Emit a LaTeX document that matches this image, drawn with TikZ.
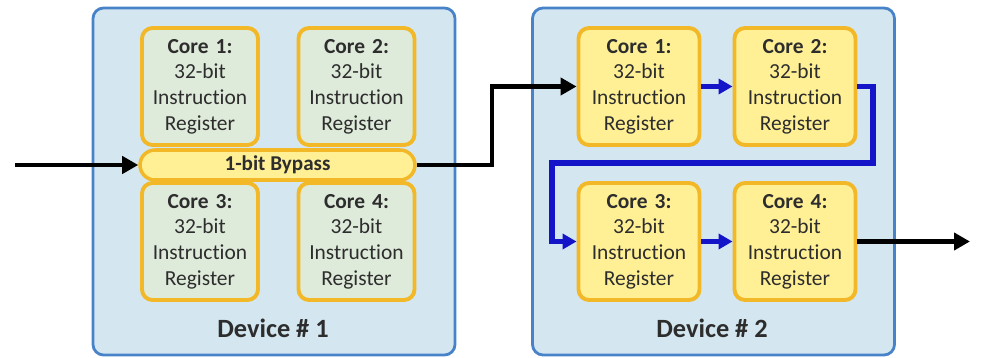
\documentclass[tikz,border=0pt]{standalone}
\usepackage{fontspec}
\setmainfont[Ligatures=NoCommon]{Carlito}
\usetikzlibrary{arrows.meta}

\definecolor{devfill}{RGB}{212,231,240}
\definecolor{devline}{RGB}{72,130,200}
\definecolor{coreline}{RGB}{242,184,40}
\definecolor{corefillA}{RGB}{222,234,218}
\definecolor{corefillB}{RGB}{255,240,150}
\definecolor{chainblue}{RGB}{20,20,200}
\definecolor{txtgray}{RGB}{45,45,45}

\tikzset{
  device/.style={draw=devline, fill=devfill, line width=1.6pt, rounded corners=6pt,
    minimum width=7.24cm, minimum height=6.94cm},
  corebox/.style={draw=coreline, line width=2.2pt, rounded corners=6pt,
    minimum height=2.34cm, text width=2.3cm, align=center, inner sep=0pt,
    text=txtgray, font=\fontsize{12.2}{14.6}\selectfont},
  bypass/.style={draw=coreline, fill=corefillB, line width=2pt, rounded corners=0.3cm,
    minimum width=5.5cm, minimum height=0.6cm, text=txtgray,
    font=\fontsize{12}{13}\selectfont\bfseries},
  devlabel/.style={text=txtgray, font=\fontsize{15}{17}\selectfont\bfseries},
  link/.style={line width=2.4pt, -{Triangle[length=0.32cm, width=0.34cm]}},
  chain/.style={line width=3pt, draw=chainblue, -{Triangle[length=0.28cm, width=0.3cm]}}
}

\begin{document}
\begin{tikzpicture}
  \useasboundingbox (0,0) rectangle (19.62,7.16);

  % Devices
  \node[device] (dev1) at (5.48,3.53) {};
  \node[device] (dev2) at (14.27,3.53) {};

  \def\yT{5.43}  % upper row
  \def\yB{2.33}  % lower row

  % Device # 1: cores around the bypass
  \node[corebox, fill=corefillA, minimum width=2.32cm] (aI)   at (4.00,\yT) {\textbf{Core 1:}\\32-bit\\Instruction\\Register};
  \node[corebox, fill=corefillA, minimum width=2.32cm] (aII)  at (7.13,\yT) {\textbf{Core 2:}\\32-bit\\Instruction\\Register};
  \node[corebox, fill=corefillA, minimum width=2.32cm] (aIII) at (4.00,\yB) {\textbf{Core 3:}\\32-bit\\Instruction\\Register};
  \node[corebox, fill=corefillA, minimum width=2.32cm] (aIV)  at (7.13,\yB) {\textbf{Core 4:}\\32-bit\\Instruction\\Register};
  \node[bypass] (byp) at (5.55,3.86) {1-bit Bypass};
  \node[devlabel] (lab1) at (5.46,0.60) {Device \# 1};

  % Device # 2: cores in a chain
  \node[corebox, fill=corefillB, minimum width=2.42cm] (bI)   at (12.78,\yT) {\textbf{Core 1:}\\32-bit\\Instruction\\Register};
  \node[corebox, fill=corefillB, minimum width=2.42cm] (bII)  at (15.90,\yT) {\textbf{Core 2:}\\32-bit\\Instruction\\Register};
  \node[corebox, fill=corefillB, minimum width=2.42cm] (bIII) at (12.78,\yB) {\textbf{Core 3:}\\32-bit\\Instruction\\Register};
  \node[corebox, fill=corefillB, minimum width=2.42cm] (bIV)  at (15.90,\yB) {\textbf{Core 4:}\\32-bit\\Instruction\\Register};
  \node[devlabel] (lab2) at (14.24,0.60) {Device \# 2};

  % Free ends
  \coordinate (in)  at (0.30,3.86);
  \coordinate (out) at (19.40,\yB);

  % Scan path
  \draw[link] (in) -- (byp.west);
  \draw[link] (byp.east) -- (9.84,3.86) -- (9.84,\yT) -- (bI.west);
  \draw[chain] (bI.east) -- (bII.west);
  \draw[chain] (bII.east) -- (17.46,\yT) -- (17.46,3.90) -- (11.04,3.90) -- (11.04,\yB) -- (bIII.west);
  \draw[chain] (bIII.east) -- (bIV.west);
  \draw[link] (bIV.east) -- (out);

\end{tikzpicture}
\end{document}
